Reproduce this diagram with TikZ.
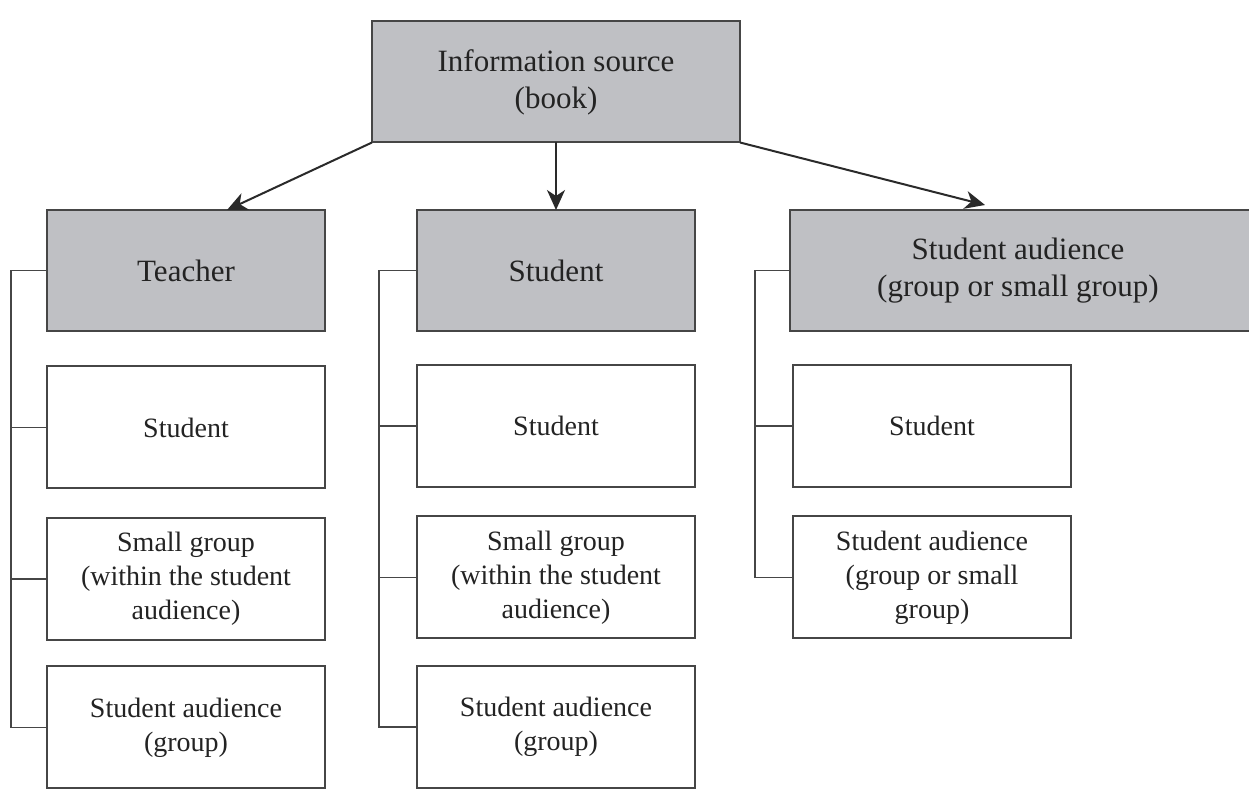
\documentclass[tikz,border=0pt]{standalone}
\usepackage{fontspec}
\setmainfont{Liberation Serif}
\usetikzlibrary{arrows.meta}
\definecolor{boxgray}{RGB}{191,192,196}
\definecolor{edge}{RGB}{70,70,70}
\definecolor{txt}{RGB}{35,35,35}
\tikzset{
  hdr/.style={draw=edge, line width=1pt, fill=boxgray, inner sep=0pt, outer sep=0pt,
    minimum width=139pt, minimum height=60.5pt, align=center, text=txt,
    font=\fontsize{15.5}{18.5}\selectfont},
  leaf/.style={draw=edge, line width=1pt, fill=white, inner sep=0pt, outer sep=0pt,
    minimum width=139pt, minimum height=61pt, align=center, text=txt,
    font=\fontsize{14}{17}\selectfont},
  br/.style={draw=edge, line width=0.8pt},
  arr/.style={draw=edge!60!black, line width=1pt, -{Stealth[length=10pt,width=9pt,inset=3pt]}}
}
\begin{document}
\begin{tikzpicture}[x=0.5pt,y=-0.5pt]
\useasboundingbox (0,0) rectangle (1249,790);
\fill[white] (0,0) rectangle (1249,790);
% top
\node[hdr, minimum width=184pt] (top) at (556,82) {Information source\\(book)};
% headers
\node[hdr] (teacher) at (186,270.5) {Teacher};
\node[hdr] (studenth) at (556,270.5) {Student};
\node[hdr, minimum width=234pt, anchor=west] (audh) at (790,270.5) {\hspace*{-6pt}Student audience\\\hspace*{-6pt}(group or small group)};
% left column
\node[leaf] (l1) at (186,427.5) {Student};
\node[leaf] (l2) at (186,579) {Small group\\(within the student\\audience)};
\node[leaf] (l3) at (186,727.5) {Student audience\\(group)};
% middle column
\node[leaf] (m1) at (556,426) {Student};
\node[leaf] (m2) at (556,577.5) {Small group\\(within the student\\audience)};
\node[leaf] (m3) at (556,727) {Student audience\\(group)};
% right column
\node[leaf] (r1) at (932,426) {Student};
\node[leaf] (r2) at (932,577.5) {Student audience\\(group or small\\group)};
% bracket coordinates
\coordinate (lb) at (11,0);
\coordinate (mb) at (379,0);
\coordinate (rb) at (755,0);
% left bracket
\draw[br] (teacher.west) -| (lb |- l3.west) -- (l3.west);
\draw[br] (l1.west) -- (lb |- l1.west);
\draw[br] (l2.west) -- (lb |- l2.west);
% middle bracket
\draw[br] (studenth.west) -| (mb |- m3.west) -- (m3.west);
\draw[br] (m1.west) -- (mb |- m1.west);
\draw[br] (m2.west) -- (mb |- m2.west);
% right bracket
\draw[br] (audh.west) -| (rb |- r2.west) -- (r2.west);
\draw[br] (r1.west) -- (rb |- r1.west);
% arrows
\coordinate (ltip) at (227,210);
\coordinate (rtip) at (985,205);
\draw[arr] (top.south west) -- (ltip);
\draw[arr] (top.south) -- (studenth.north);
\draw[arr] (top.south east) -- (rtip);
\end{tikzpicture}
\end{document}
